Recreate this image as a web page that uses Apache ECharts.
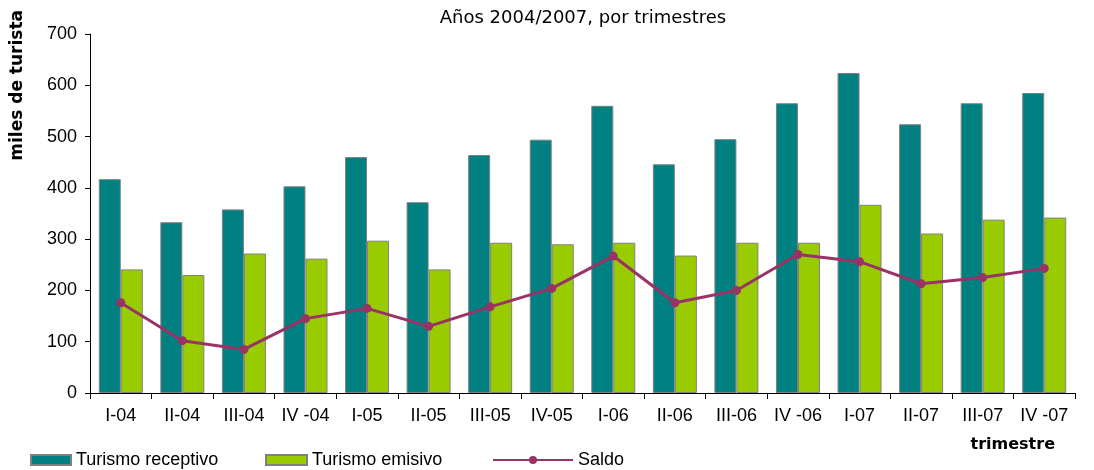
<!DOCTYPE html>
<html>
<head>
<meta charset="utf-8">
<script src="https://cdn.jsdelivr.net/npm/echarts@6/dist/echarts.min.js"></script>
<style>
  html, body { margin: 0; padding: 0; background: #fff; }
  #chart { width: 1094px; height: 470px; }
</style>
</head>
<body>
<div id="chart"></div>
<script>
const categories = ['I-04', 'II-04', 'III-04', 'IV -04', 'I-05', 'II-05', 'III-05', 'IV-05',
  'I-06', 'II-06', 'III-06', 'IV -06', 'I-07', 'II-07', 'III-07', 'IV -07'];
const receptivo = [417, 333, 358, 403, 460, 372, 464, 494, 560, 446, 495, 565, 624, 524, 565, 585];
const emisivo = [241, 230, 272, 262, 297, 241, 293, 290, 293, 268, 293, 293, 367, 311, 338, 342];
const saldo = [176, 102, 85, 145, 165, 130, 168, 204, 267, 176, 200, 270, 256, 213, 225, 243];
const yTicks = [0, 100, 200, 300, 400, 500, 600, 700];

const font = 'Liberation Sans, Arial, sans-serif';
const wideFont = 'DejaVu Sans, sans-serif';
const myChart = echarts.init(document.getElementById('chart'));

// una leyenda por serie, cada una con su propio ancho de icono
const legendText = { fontSize: 18, color: '#000', fontFamily: font, padding: [0, 0, 0, 0] };
const legends = [
  { name: 'Turismo receptivo', left: 30, itemWidth: 40, icon: 'rect' },
  { name: 'Turismo emisivo', left: 265, itemWidth: 41, icon: 'rect' },
  { name: 'Saldo', left: 492, itemWidth: 80 }
].map(item => ({
  bottom: 1,
  left: item.left,
  padding: 0,
  itemWidth: item.itemWidth,
  itemHeight: 10,
  itemGap: 0,
  textStyle: legendText,
  data: [item.icon ? { name: item.name, icon: item.icon } : { name: item.name }]
}));

const option = {
  animation: false,
  textStyle: { fontFamily: font },
  title: {
    text: 'Años 2004/2007, por trimestres',
    left: 578,
    top: 4,
    textAlign: 'center',
    textStyle: { fontSize: 18, fontWeight: 'normal', color: '#000', fontFamily: wideFont }
  },
  grid: { left: 90, right: 19, top: 34, bottom: 77 },
  legend: legends,
  xAxis: {
    type: 'category',
    data: categories,
    name: 'trimestre',
    nameLocation: 'end',
    nameGap: 0,
    nameTextStyle: {
      fontSize: 16, fontWeight: 'bold', color: '#000', fontFamily: wideFont,
      align: 'right', verticalAlign: 'top', padding: [44, 20, 0, 0]
    },
    axisLine: { lineStyle: { color: '#000', width: 1 } },
    axisTick: { show: true, length: 6, lineStyle: { color: '#000' } },
    axisLabel: { fontSize: 18, color: '#000', margin: 14, interval: 0 }
  },
  yAxis: {
    type: 'value',
    min: yTicks[0],
    max: yTicks[yTicks.length - 1],
    interval: 100,
    name: 'miles de turista',
    nameLocation: 'end',
    nameRotate: 90,
    nameGap: 24,
    nameTextStyle: {
      fontSize: 17, fontWeight: 'bold', color: '#000', fontFamily: wideFont,
      align: 'right', verticalAlign: 'bottom', padding: [0, 0, 64, 0]
    },
    splitLine: { show: false },
    axisLine: { show: true, lineStyle: { color: '#000', width: 1 } },
    axisTick: { show: true, length: 5, lineStyle: { color: '#000' } },
    axisLabel: { fontSize: 18, color: '#000', margin: 13 }
  },
  series: [
    {
      name: 'Turismo receptivo',
      type: 'bar',
      data: receptivo,
      barWidth: 22,
      barGap: '0%',
      itemStyle: { color: '#008080', borderColor: '#808080', borderWidth: 1 }
    },
    {
      name: 'Turismo emisivo',
      type: 'bar',
      data: emisivo,
      barWidth: 22,
      itemStyle: { color: '#99CC00', borderColor: '#808080', borderWidth: 1 }
    },
    {
      name: 'Saldo',
      type: 'line',
      data: saldo,
      symbol: 'circle',
      symbolSize: 9,
      lineStyle: { color: '#993366', width: 3 },
      itemStyle: { color: '#993366' }
    }
  ]
};

myChart.setOption(option);
</script>
</body>
</html>
